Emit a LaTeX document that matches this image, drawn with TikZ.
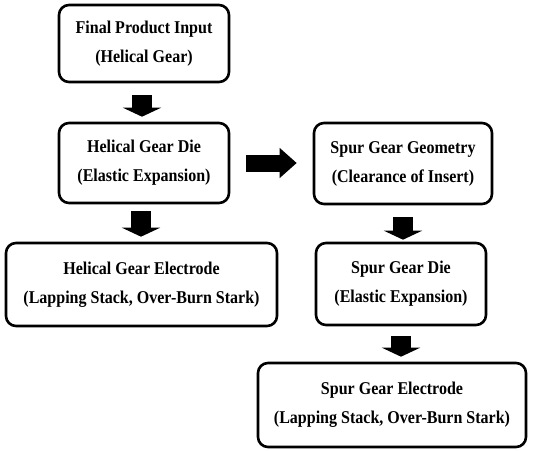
\documentclass[tikz,border=0pt]{standalone}
\usepackage{fontspec}
\setmainfont{Liberation Serif}
\newfontfamily\boxfont[FakeStretch=0.89]{Liberation Serif}
\usetikzlibrary{arrows.meta}
\tikzset{
  flowbox/.style={draw=black, line width=2.6pt, rounded corners=10pt, align=center,
    font=\boxfont\fontsize{18}{29}\selectfont\bfseries, inner sep=2pt},
  downarrow/.style={draw=black, line width=20pt,
    -{Triangle[width=38pt,length=9pt]}},
  rightarrow/.style={draw=black, line width=17pt,
    -{Triangle[width=29pt,length=17pt]}}
}
\begin{document}
\begin{tikzpicture}[x=1pt,y=-1pt]
\useasboundingbox (0,0) rectangle (535,450);
\node[flowbox, minimum width=170pt, minimum height=77pt] (b1) at (144,43.5)
  {Final Product Input\\(Helical Gear)};
\node[flowbox, minimum width=170pt, minimum height=80pt] (b2) at (144,163)
  {Helical Gear Die\\(Elastic Expansion)};
\node[flowbox, minimum width=178pt, minimum height=81pt] (b3) at (403,163.5)
  {Spur Gear Geometry\\(Clearance of Insert)};
\node[flowbox, minimum width=170pt, minimum height=82pt] (b4) at (401,284)
  {Spur Gear Die\\(Elastic Expansion)};
\node[flowbox, minimum width=271pt, minimum height=83pt] (b5) at (141.5,284.5)
  {Helical Gear Electrode\\(Lapping Stack, Over-Burn Stark)};
\node[flowbox, minimum width=268pt, minimum height=84pt] (b6) at (392,405)
  {Spur Gear Electrode\\(Lapping Stack, Over-Burn Stark)};

\draw[downarrow, shorten <=12pt, shorten >=5pt] ([xshift=-2pt]b1.south) -- ([xshift=-2pt]b1.south |- b2.north);
\draw[downarrow, shorten <=7pt, shorten >=5pt] ([xshift=-3pt]b2.south) -- ([xshift=-3pt]b2.south |- b5.north);
\draw[downarrow, shorten <=12pt, shorten >=2pt] (b3.south) -- (b3.south |- b4.north);
\draw[downarrow, shorten <=10pt, shorten >=5pt] (b4.south) -- (b4.south |- b6.north);
\draw[rightarrow, shorten <=16pt, shorten >=16pt] (b2.east) -- (b2.east -| b3.west);
\end{tikzpicture}
\end{document}
